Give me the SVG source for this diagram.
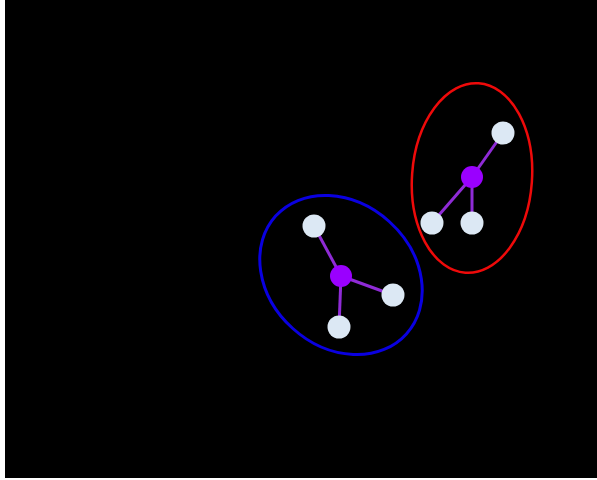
<svg xmlns="http://www.w3.org/2000/svg" width="597" height="480" viewBox="0 0 597 480">
<style>
.leaf{fill:#dce8f4}
.hub{fill:#9a00ff}
.edge{stroke:#8f2bd6;stroke-width:3;fill:none}
</style>
<rect x="0" y="0" width="597" height="480" fill="#ffffff"/>
<rect x="5" y="0" width="592" height="478" fill="#000000"/>
<g id="clusters">
<ellipse id="blue-cluster" cx="341" cy="275" rx="88" ry="72" transform="rotate(42 341 275)" fill="none" stroke="#0a00e0" stroke-width="3"/>
<ellipse id="red-cluster" cx="472" cy="178" rx="60" ry="95" transform="rotate(4 472 178)" fill="none" stroke="#ee0a0a" stroke-width="2.5"/>
</g>
<g id="connectors">
<line class="edge" x1="341" y1="276" x2="314" y2="226"/>
<line class="edge" x1="341" y1="276" x2="393" y2="295"/>
<line class="edge" x1="341" y1="276" x2="339" y2="327"/>
<line class="edge" x1="472" y1="177" x2="503" y2="133"/>
<line class="edge" x1="472" y1="177" x2="432" y2="223"/>
<line class="edge" x1="472" y1="177" x2="472" y2="223"/>
</g>
<g id="b-hub"><circle class="hub" cx="341" cy="276" r="11"/></g>
<g id="b1"><circle class="leaf" cx="314" cy="226" r="11.5"/></g>
<g id="b2"><circle class="leaf" cx="393" cy="295" r="11.5"/></g>
<g id="b3"><circle class="leaf" cx="339" cy="327" r="11.5"/></g>
<g id="r-hub"><circle class="hub" cx="472" cy="177" r="11"/></g>
<g id="r1"><circle class="leaf" cx="503" cy="133" r="11.5"/></g>
<g id="r2"><circle class="leaf" cx="432" cy="223" r="11.5"/></g>
<g id="r3"><circle class="leaf" cx="472" cy="223" r="11.5"/></g>
</svg>
